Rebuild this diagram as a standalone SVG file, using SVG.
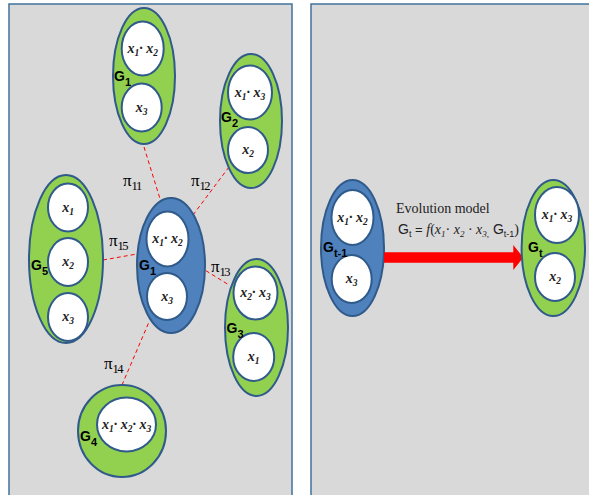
<svg xmlns="http://www.w3.org/2000/svg" width="589" height="495" viewBox="0 0 589 495">
<style>
.panel{fill:#d9d9d9;stroke:#41719c;stroke-width:1.5}
.green{fill:#92d050;stroke:#2f5a8a;stroke-width:2}
.blue{fill:#4f81bd;stroke:#2f5a8a;stroke-width:2}
.inner{fill:#ffffff;stroke:#2f5a8a;stroke-width:2}
.xv{font-family:"Liberation Serif",serif;font-style:italic;font-weight:bold;font-size:14px;fill:#222;text-anchor:middle}
.sub{font-size:9.5px}
.g{font-family:"Liberation Sans",Arial,sans-serif;font-weight:bold;font-size:14px;fill:#000}
.gs{font-size:11px}
.pi{font-family:"Liberation Serif",serif;font-size:17px;fill:#000}
.pis{font-size:12.5px;letter-spacing:-1.5px}
.conn{stroke:#ff0000;stroke-width:1;stroke-dasharray:4 3;fill:none}
</style>
<rect width="589" height="495" fill="#ffffff"/>
<rect class="panel" x="9" y="4" width="283" height="500"/>
<rect class="panel" x="311" y="4" width="290" height="500"/>

<g id="connectors">
<line class="conn" x1="144" y1="147" x2="161" y2="202"/>
<line class="conn" x1="229" y1="167" x2="190" y2="219"/>
<line class="conn" x1="103" y1="260" x2="137" y2="254"/>
<line class="conn" x1="200" y1="267" x2="229" y2="285"/>
<line class="conn" x1="122" y1="385" x2="149" y2="322"/>
</g>

<g id="pi-labels">
<text class="pi" x="123" y="186">π<tspan class="pis" dy="4">11</tspan></text>
<text class="pi" x="191" y="186">π<tspan class="pis" dy="4">12</tspan></text>
<text class="pi" x="211" y="272">π<tspan class="pis" dy="4">13</tspan></text>
<text class="pi" x="104" y="369">π<tspan class="pis" dy="4">14</tspan></text>
<text class="pi" x="109" y="246">π<tspan class="pis" dy="4">15</tspan></text>
</g>

<g id="G1top">
<ellipse class="green" cx="144" cy="76" rx="31" ry="68"/>
<ellipse class="inner" cx="142.7" cy="48.5" rx="21" ry="27"/>
<ellipse class="inner" cx="141.7" cy="107.5" rx="20" ry="24"/>
<text class="xv" x="142.7" y="52.5">x<tspan class="sub" dy="3">1</tspan><tspan dy="-3">· x</tspan><tspan class="sub" dy="3">2</tspan></text>
<text class="xv" x="141.7" y="111.5">x<tspan class="sub" dy="3">3</tspan></text>
<text class="g" x="114" y="81">G<tspan class="gs" dy="5">1</tspan></text>
</g>

<g id="G2">
<ellipse class="green" cx="251" cy="121" rx="31" ry="67"/>
<ellipse class="inner" cx="250" cy="92.5" rx="22" ry="27"/>
<ellipse class="inner" cx="248" cy="150" rx="20" ry="23"/>
<text class="xv" x="250" y="96.5">x<tspan class="sub" dy="3">1</tspan><tspan dy="-3">· x</tspan><tspan class="sub" dy="3">3</tspan></text>
<text class="xv" x="248" y="154">x<tspan class="sub" dy="3">2</tspan></text>
<text class="g" x="221" y="122">G<tspan class="gs" dy="5">2</tspan></text>
</g>

<g id="G5">
<ellipse class="green" cx="66" cy="259" rx="37" ry="84"/>
<ellipse class="inner" cx="68" cy="207.5" rx="20" ry="24"/>
<ellipse class="inner" cx="68" cy="262" rx="20" ry="24"/>
<ellipse class="inner" cx="68" cy="317" rx="20" ry="24"/>
<text class="xv" x="68" y="211.5">x<tspan class="sub" dy="3">1</tspan></text>
<text class="xv" x="68" y="266">x<tspan class="sub" dy="3">2</tspan></text>
<text class="xv" x="68" y="321">x<tspan class="sub" dy="3">3</tspan></text>
<text class="g" x="31" y="270">G<tspan class="gs" dy="5">5</tspan></text>
</g>

<g id="G1center">
<ellipse class="blue" cx="171" cy="265.5" rx="34" ry="67.5"/>
<ellipse class="inner" cx="167.5" cy="239" rx="21" ry="27.5"/>
<ellipse class="inner" cx="167" cy="296.5" rx="20" ry="23.5"/>
<text class="xv" x="167.5" y="243">x<tspan class="sub" dy="3">1</tspan><tspan dy="-3">· x</tspan><tspan class="sub" dy="3">2</tspan></text>
<text class="xv" x="167" y="300.5">x<tspan class="sub" dy="3">3</tspan></text>
<text class="g" x="139" y="270">G<tspan class="gs" dy="5">1</tspan></text>
</g>

<g id="G3">
<ellipse class="green" cx="256.5" cy="327.5" rx="31.5" ry="68.5"/>
<ellipse class="inner" cx="255.5" cy="293" rx="22" ry="26.5"/>
<ellipse class="inner" cx="253.7" cy="357" rx="20.5" ry="24"/>
<text class="xv" x="255.5" y="297">x<tspan class="sub" dy="3">2</tspan><tspan dy="-3">· x</tspan><tspan class="sub" dy="3">3</tspan></text>
<text class="xv" x="253.7" y="361">x<tspan class="sub" dy="3">1</tspan></text>
<text class="g" x="226.5" y="333">G<tspan class="gs" dy="5">3</tspan></text>
</g>

<g id="G4">
<ellipse class="green" cx="122" cy="431" rx="44" ry="46"/>
<ellipse class="inner" cx="126.5" cy="424.5" rx="29.5" ry="27"/>
<text class="xv" x="126.5" y="428.5">x<tspan class="sub" dy="3">1</tspan><tspan dy="-3">· x</tspan><tspan class="sub" dy="3">2</tspan><tspan dy="-3">· x</tspan><tspan class="sub" dy="3">3</tspan></text>
<text class="g" x="80" y="441">G<tspan class="gs" dy="5">4</tspan></text>
</g>

<g id="Gt-1">
<ellipse class="blue" cx="352.5" cy="248" rx="31.5" ry="68"/>
<ellipse class="inner" cx="352.5" cy="217.5" rx="21" ry="27.5"/>
<ellipse class="inner" cx="351.7" cy="279" rx="20" ry="24"/>
<text class="xv" x="352.5" y="221.5">x<tspan class="sub" dy="3">1</tspan><tspan dy="-3">· x</tspan><tspan class="sub" dy="3">2</tspan></text>
<text class="xv" x="351.7" y="283">x<tspan class="sub" dy="3">3</tspan></text>
<text class="g" x="323" y="252">G<tspan class="gs" dy="5">t-1</tspan></text>
</g>

<g id="arrow">
<polygon points="384,252.3 513.3,252.3 513.3,245 523.3,257.5 513.3,270 513.3,262.7 384,262.7" fill="#ff0000"/>
</g>

<g id="evolution-label">
<text x="396" y="213" font-family="Liberation Serif,serif" font-size="14" fill="#222">Evolution model</text>
<text x="398" y="234" fill="#222"><tspan font-family="Liberation Sans,sans-serif" font-size="14">G</tspan><tspan font-family="Liberation Sans,sans-serif" font-size="9" dy="3">t</tspan><tspan font-family="Liberation Sans,sans-serif" font-size="13" dy="-3"> = </tspan><tspan font-family="Liberation Serif,serif" font-style="italic" font-size="14">f</tspan><tspan font-family="Liberation Serif,serif" font-size="14">(</tspan><tspan font-family="Liberation Serif,serif" font-style="italic" font-size="14">x</tspan><tspan font-family="Liberation Serif,serif" font-style="italic" font-size="9" dy="3">1</tspan><tspan font-family="Liberation Serif,serif" font-size="14" dy="-3">· </tspan><tspan font-family="Liberation Serif,serif" font-style="italic" font-size="14">x</tspan><tspan font-family="Liberation Serif,serif" font-style="italic" font-size="9" dy="3">2</tspan><tspan font-family="Liberation Serif,serif" font-size="14" dy="-3"> · </tspan><tspan font-family="Liberation Serif,serif" font-style="italic" font-size="14">x</tspan><tspan font-family="Liberation Serif,serif" font-style="italic" font-size="9" dy="3">3,</tspan><tspan font-family="Liberation Sans,sans-serif" font-size="14" dy="-3"> G</tspan><tspan font-family="Liberation Sans,sans-serif" font-size="9" dy="3">t-1</tspan><tspan font-family="Liberation Serif,serif" font-size="14" dy="-3">)</tspan></text>
</g>

<g id="Gt">
<ellipse class="green" cx="553.3" cy="248" rx="31.7" ry="68"/>
<ellipse class="inner" cx="557" cy="215" rx="22" ry="28"/>
<ellipse class="inner" cx="555" cy="277" rx="20" ry="24"/>
<text class="xv" x="557" y="219">x<tspan class="sub" dy="3">1</tspan><tspan dy="-3">· x</tspan><tspan class="sub" dy="3">3</tspan></text>
<text class="xv" x="555" y="281">x<tspan class="sub" dy="3">2</tspan></text>
<text class="g" x="528" y="252">G<tspan class="gs" dy="5">t</tspan></text>
</g>
</svg>
